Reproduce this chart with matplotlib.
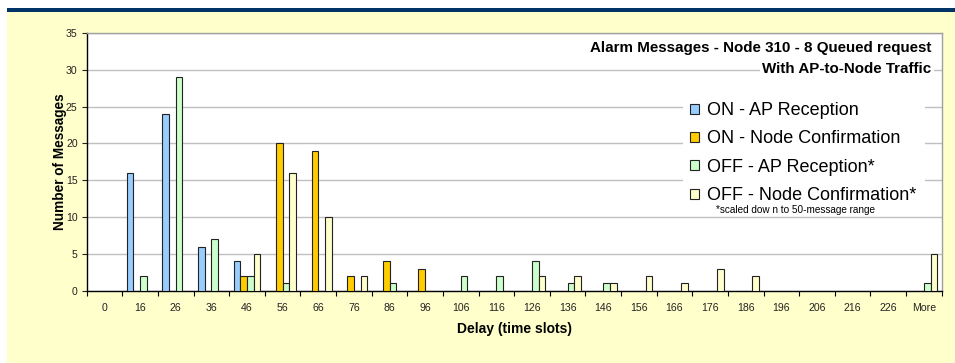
import matplotlib
matplotlib.use("Agg")
import matplotlib.pyplot as plt
from matplotlib.patches import Rectangle
import numpy as np

plt.rcParams['font.family'] = ['Liberation Sans', 'DejaVu Sans']

# Delay bins (time slots)
categories = ["0", "16", "26", "36", "46", "56", "66", "76", "86", "96", "106", "116",
              "126", "136", "146", "156", "166", "176", "186", "196", "206", "216", "226", "More"]

on_ap_reception =      [0, 16, 24, 6, 4, 0, 0, 0, 0, 0, 0, 0, 0, 0, 0, 0, 0, 0, 0, 0, 0, 0, 0, 0]
on_node_confirmation = [0, 0, 0, 0, 2, 20, 19, 2, 4, 3, 0, 0, 0, 0, 0, 0, 0, 0, 0, 0, 0, 0, 0, 0]
off_ap_reception =     [0, 2, 29, 7, 2, 1, 0, 0, 1, 0, 2, 2, 4, 1, 1, 0, 0, 0, 0, 0, 0, 0, 0, 1]
off_node_confirmation = [0, 0, 0, 0, 5, 16, 10, 2, 0, 0, 0, 0, 2, 2, 1, 2, 1, 3, 2, 0, 0, 0, 0, 5]

series_names = ["ON - AP Reception", "ON - Node Confirmation",
                "OFF - AP Reception*", "OFF - Node Confirmation*"]
series_colors = ["#99CCFF", "#FFCC00", "#CCFFCC", "#FFFFCC"]

W, H = 955, 363
fig = plt.figure(figsize=(W / 100, H / 100), dpi=100, facecolor="white")

# pale yellow panel with a navy rule across the top
fig.patches.append(Rectangle((7 / W, 0), 1 - 7 / W, 1 - 12 / H, transform=fig.transFigure,
                             facecolor="#FFFFCC", edgecolor="none", zorder=0))
fig.patches.append(Rectangle((7 / W, 1 - 12 / H), 1 - 7 / W, 4 / H, transform=fig.transFigure,
                             facecolor="#003366", edgecolor="none", zorder=0))

left, right, top, bottom = 86.7, 941.7, 33.0, 290.7
ax = fig.add_axes([left / W, 1 - bottom / H, (right - left) / W, (bottom - top) / H])
ax.set_zorder(2)
ax.set_facecolor("white")

x = np.arange(len(categories))
bw = 1 / (4 + 1.33)
all_series = [on_ap_reception, on_node_confirmation, off_ap_reception, off_node_confirmation]
handles = []
for i, (vals, name, col) in enumerate(zip(all_series, series_names, series_colors)):
    v = np.array(vals, dtype=float)
    h = ax.bar(x + (i - 1.5) * bw, np.where(v > 0, v, np.nan), width=bw, color=col,
               edgecolor="#222222", linewidth=0.8, label=name, zorder=3)
    handles.append(h)

ax.set_xlim(-0.5, len(categories) - 0.5)
ax.set_ylim(0, 35)
ax.set_yticks(np.arange(0, 36, 5))
ax.yaxis.grid(True, color="#C0C0C0", linewidth=1.0, zorder=0)
ax.set_axisbelow(True)

ax.set_xticks(x)
ax.set_xticklabels(categories)
ax.set_xticks(np.arange(-0.5, len(categories), 1), minor=True)
ax.tick_params(axis="x", which="major", length=0, pad=9, labelsize=7.6, colors="#222222")
ax.tick_params(axis="x", which="minor", length=3.5, width=0.8, direction="out", color="black")
ax.tick_params(axis="y", length=3.5, width=0.8, pad=3, labelsize=7.6, colors="#222222")

for s in ("left", "bottom"):
    ax.spines[s].set_color("black")
    ax.spines[s].set_linewidth(1.0)
for s in ("top", "right"):
    ax.spines[s].set_color("#A0A0A0")
    ax.spines[s].set_linewidth(1.0)

ax.set_xlabel("Delay (time slots)", fontsize=10, fontweight="bold", labelpad=6.5)
ax.set_ylabel("Number of Messages", fontsize=9.8, fontweight="bold", labelpad=-0.6)

def ax_xy(px, py):
    return ((px - left) / (right - left), (bottom - py) / (bottom - top))

# title block in the upper right of the plot area
tx, ty1 = ax_xy(931.7, 48)
_, ty2 = ax_xy(931.7, 69)
ax.text(tx, ty1, "Alarm Messages - Node 310 - 8 Queued request",
        transform=ax.transAxes, ha="right", va="center", fontsize=10.9, fontweight="bold",
        zorder=5)
ax.text(tx, ty2, "With AP-to-Node Traffic",
        transform=ax.transAxes, ha="right", va="center", fontsize=10.9, fontweight="bold",
        zorder=5, bbox=dict(facecolor="white", edgecolor="none", pad=1.5))

# legend panel
x0, y0 = ax_xy(683, 215)
x1, y1 = ax_xy(925, 95)
ax.add_patch(Rectangle((x0, y0), x1 - x0, y1 - y0, transform=ax.transAxes,
                       facecolor="white", edgecolor="none", zorder=4))
lx, ly = ax_xy(690, 102)
leg = ax.legend(handles=handles, loc="upper left", bbox_to_anchor=(lx, ly), frameon=False,
                fontsize=13, handlelength=0.48, handleheight=0.48, handletextpad=0.45,
                labelspacing=0.63, borderpad=0.0, borderaxespad=0.0)
leg.set_zorder(6)
fx, fy = ax_xy(716, 210)
ax.text(fx, fy, "*scaled dow n to 50-message range", transform=ax.transAxes,
        fontsize=7.2, ha="left", va="center", zorder=6)

fig.savefig("out.png", dpi=100, facecolor=fig.get_facecolor())
